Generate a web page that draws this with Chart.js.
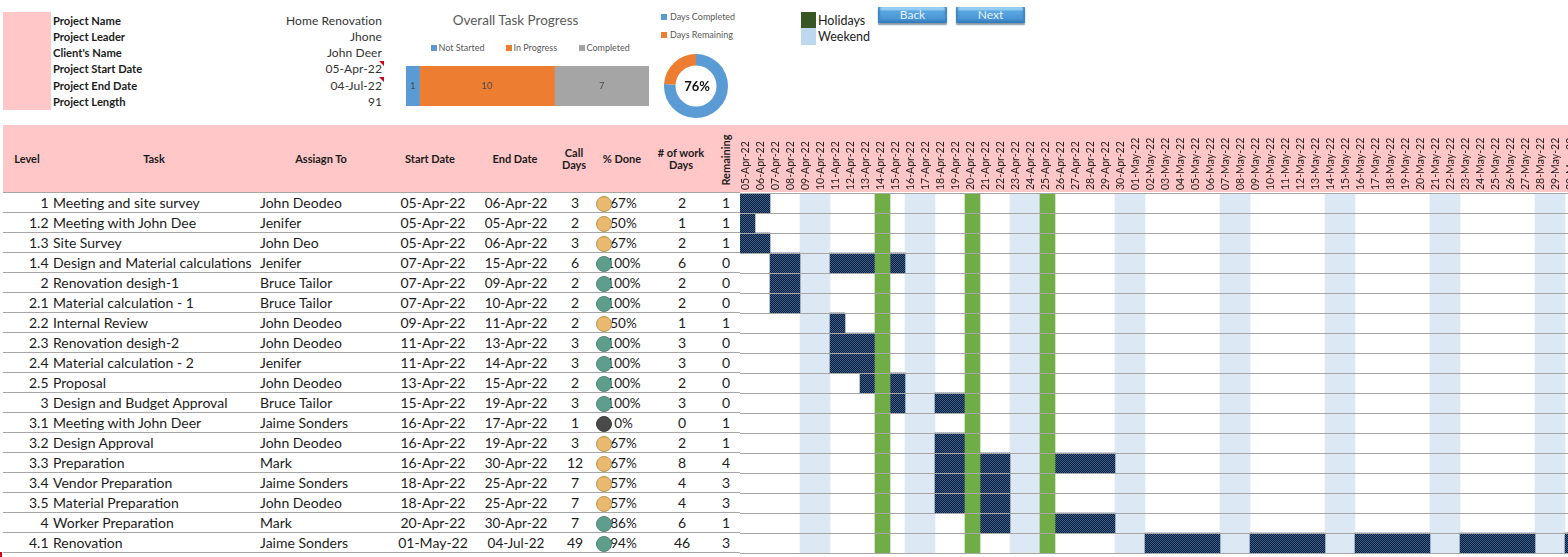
<!DOCTYPE html>
<html><head><meta charset="utf-8">
<script src="https://cdn.jsdelivr.net/npm/chart.js@4/dist/chart.umd.min.js"></script>
<style>
html,body{margin:0;padding:0;background:#fff;width:1568px;height:557px;overflow:hidden;font-family:Lato,sans-serif;color:#1c1c1c}
.t{position:absolute;white-space:nowrap;line-height:1.1}
.b{position:absolute}
canvas{position:absolute}
.btn{position:absolute;height:16px;width:69px;border-radius:1px;text-align:center;font:12px/15px Lato,sans-serif;color:#e4f1fb;
background:linear-gradient(#a5d6f4 0%,#8cc8ef 18%,#5ba6e0 26%,#4a96d6 72%,#2f78b8 100%);box-shadow:0 1.5px 1.5px #8a97a3,inset 3px 0 2px -1px #3e86c4,inset -3px 0 2px -1px #3e86c4}
</style></head><body>
<script>
// ---- data ----
const projectLabels = ["Project Name","Project Leader","Client's Name","Project Start Date","Project End Date","Project Length"];
const projectValues = ["Home Renovation","Jhone","John Deer","05-Apr-22","04-Jul-22","91"];
const statusNames = ["Not Started","In Progress","Completed"];
const statusCounts = [1,10,7];
const daysNames = ["Days Completed","Days Remaining"];
const daysShares = [76,24];
const headers = ["Level","Task","Assiagn To","Start Date","End Date","Call\nDays","% Done","# of work\nDays"];
const levels = ["1","1.2","1.3","1.4","2","2.1","2.2","2.3","2.4","2.5","3","3.1","3.2","3.3","3.4","3.5","4","4.1"];
const tasks = ["Meeting and site survey","Meeting with John Dee","Site Survey","Design and Material calculations","Renovation desigh-1","Material calculation - 1","Internal Review","Renovation desigh-2","Material calculation - 2","Proposal","Design and Budget Approval","Meeting with John Deer","Design Approval","Preparation","Vendor Preparation","Material Preparation","Worker Preparation","Renovation"];
const assignees = ["John Deodeo","Jenifer","John Deo","Jenifer","Bruce Tailor","Bruce Tailor","John Deodeo","John Deodeo","Jenifer","John Deodeo","Bruce Tailor","Jaime Sonders","John Deodeo","Mark","Jaime Sonders","John Deodeo","Mark","Jaime Sonders"];
const startDates = ["05-Apr-22","05-Apr-22","05-Apr-22","07-Apr-22","07-Apr-22","07-Apr-22","09-Apr-22","11-Apr-22","11-Apr-22","13-Apr-22","15-Apr-22","16-Apr-22","16-Apr-22","16-Apr-22","18-Apr-22","18-Apr-22","20-Apr-22","01-May-22"];
const endDates = ["06-Apr-22","05-Apr-22","06-Apr-22","15-Apr-22","09-Apr-22","10-Apr-22","11-Apr-22","13-Apr-22","14-Apr-22","15-Apr-22","19-Apr-22","17-Apr-22","19-Apr-22","30-Apr-22","25-Apr-22","25-Apr-22","30-Apr-22","04-Jul-22"];
const callDays = [3,2,3,6,2,2,2,3,3,2,3,1,3,12,7,7,7,49];
const pctDone = [67,50,67,100,100,100,50,100,100,100,100,0,67,67,57,57,86,94];
const workDays = [2,1,2,6,2,2,1,3,3,2,3,0,2,8,4,4,6,46];
const remaining = [1,1,1,0,0,0,1,0,0,0,0,1,1,4,3,3,1,3];
const dayLabels = ["05-Apr-22","06-Apr-22","07-Apr-22","08-Apr-22","09-Apr-22","10-Apr-22","11-Apr-22","12-Apr-22","13-Apr-22","14-Apr-22","15-Apr-22","16-Apr-22","17-Apr-22","18-Apr-22","19-Apr-22","20-Apr-22","21-Apr-22","22-Apr-22","23-Apr-22","24-Apr-22","25-Apr-22","26-Apr-22","27-Apr-22","28-Apr-22","29-Apr-22","30-Apr-22","01-May-22","02-May-22","03-May-22","04-May-22","05-May-22","06-May-22","07-May-22","08-May-22","09-May-22","10-May-22","11-May-22","12-May-22","13-May-22","14-May-22","15-May-22","16-May-22","17-May-22","18-May-22","19-May-22","20-May-22","21-May-22","22-May-22","23-May-22","24-May-22","25-May-22","26-May-22","27-May-22","28-May-22","29-May-22","30-May-22"];
const weekendSpans = [["09-Apr-22","10-Apr-22"],["16-Apr-22","17-Apr-22"],["23-Apr-22","24-Apr-22"],["30-Apr-22","01-May-22"],["07-May-22","08-May-22"],["14-May-22","15-May-22"],["21-May-22","22-May-22"],["28-May-22","29-May-22"]];
const holidaySpans = [["14-Apr-22","14-Apr-22"],["20-Apr-22","20-Apr-22"],["25-Apr-22","25-Apr-22"]];
const workedSpans = [
 [["05-Apr-22","06-Apr-22"]],
 [["05-Apr-22","05-Apr-22"]],
 [["05-Apr-22","06-Apr-22"]],
 [["07-Apr-22","08-Apr-22"],["11-Apr-22","13-Apr-22"],["15-Apr-22","15-Apr-22"]],
 [["07-Apr-22","08-Apr-22"]],
 [["07-Apr-22","08-Apr-22"]],
 [["11-Apr-22","11-Apr-22"]],
 [["11-Apr-22","13-Apr-22"]],
 [["11-Apr-22","13-Apr-22"]],
 [["13-Apr-22","13-Apr-22"],["15-Apr-22","15-Apr-22"]],
 [["15-Apr-22","15-Apr-22"],["18-Apr-22","19-Apr-22"]],
 [],
 [["18-Apr-22","19-Apr-22"]],
 [["18-Apr-22","19-Apr-22"],["21-Apr-22","22-Apr-22"],["26-Apr-22","29-Apr-22"]],
 [["18-Apr-22","19-Apr-22"],["21-Apr-22","22-Apr-22"]],
 [["18-Apr-22","19-Apr-22"],["21-Apr-22","22-Apr-22"]],
 [["21-Apr-22","22-Apr-22"],["26-Apr-22","29-Apr-22"]],
 [["02-May-22","06-May-22"],["09-May-22","13-May-22"],["16-May-22","20-May-22"],["23-May-22","27-May-22"],["30-May-22","30-May-22"]]
];

// ---- helpers ----
function box(x,y,w,h,c){const d=document.createElement('div');d.className='b';d.style.cssText=`left:${x}px;top:${y}px;width:${w}px;height:${h}px;background:${c}`;document.body.appendChild(d);return d;}
function txt(s,x,y,o={}){const d=document.createElement('div');d.className='t';d.textContent=s;
 const a=o.align||'left';const tx=a==='left'?'0':a==='right'?'-100%':'-50%';
 d.style.cssText=`left:${x}px;top:${y}px;transform:translate(${tx},-50%)${o.rot?' rotate(-90deg)':''};font-size:${o.size||14}px;font-weight:${o.bold?700:400};color:${o.color||'#1c1c1c'};text-align:${a==='left'?'left':'center'};${o.css||''}`;
 if(s.includes('\n'))d.style.whiteSpace='pre-line';
 document.body.appendChild(d);return d;}
function cv(x,y,w,h){const c=document.createElement('canvas');c.width=w;c.height=h;c.style.cssText=`left:${x}px;top:${y}px;width:${w}px;height:${h}px`;document.body.appendChild(c);return c;}

const PINK='#ffc7c7', BLUE='#5b9bd5', ORANGE='#ed7d31', GRAY='#a5a5a5';

// ---- top block ----
box(3,12,48,98,PINK);
const infoY=[21,37,53,69,86,102];
projectLabels.forEach((s,i)=>{txt(s,53,infoY[i],{bold:true,size:11.2});txt(projectValues[i],382,infoY[i],{align:'right',size:12,color:'#333',css:'letter-spacing:.1px'});});
[61,77].forEach(y=>{const d=box(379,y,5,5,'#d0021b');d.style.clipPath='polygon(0 0,100% 0,100% 100%)';});
box(0,552,2,5,'#d0021b');

txt('Overall Task Progress',515.5,20,{align:'center',size:13.5,color:'#595959'});
const legX=[431,506,579];
statusNames.forEach((s,i)=>{box(legX[i],45,6,6,[BLUE,ORANGE,GRAY][i]);txt(s,legX[i]+7.5,48,{size:9,color:'#595959'});});
daysNames.forEach((s,i)=>{const y=[17,35][i];box(661,y-3,6,6,[BLUE,ORANGE][i]);txt(s,670,y,{size:9,color:'#595959'});});

box(801,12,15,16,'#375623');box(801,28,15,17,'#bdd7ee');
txt('Holidays',818,21,{size:12.5});txt('Weekend',818,37,{size:12.5});
[['Back',878],['Next',956]].forEach(([s,x])=>{const d=document.createElement('div');d.className='btn';d.textContent=s;d.style.left=x+'px';d.style.top='7px';document.body.appendChild(d);});

// ---- header band ----
box(3,125,1565,67,PINK);
const hdrX=[27,154,321,430,515,574,622,681];
headers.forEach((s,i)=>txt(s,hdrX[i],159,{align:'center',bold:true,size:11}));
txt('Remaining',726,160,{align:'center',bold:true,size:11,rot:true});

// ---- table rows ----
box(3,192,737,1,'#a6a6a6');
levels.forEach((l,i)=>{
 const top=193+i*20,y=top+10;
 box(3,top+19,737,1,'#a6a6a6');
 txt(l,48.5,y,{align:'right'});
 txt(tasks[i],53,y);
 txt(assignees[i],260,y);
 txt(startDates[i],433,y,{align:'center'});
 txt(endDates[i],516,y,{align:'center',size:13.5});
 txt(String(callDays[i]),575,y,{align:'center'});
 txt(pctDone[i]+'%',623.5,y,{align:'center',size:13.5});
 txt(String(workDays[i]),682,y,{align:'center'});
 txt(String(remaining[i]),726,y,{align:'center'});
});

Chart.defaults.font.family='Lato, sans-serif';
Chart.defaults.animation=false;
Chart.defaults.responsive=false;
Chart.defaults.devicePixelRatio=1;

// ---- status dots ----
function dotColor(p){return p===0?'#4a4a4a':p>=80?'#5f9e8c':'#e8b96f';}
function dotEdge(p){return p===0?'#3a3a3a':p>=80?'#4c8272':'#b8924f';}
new Chart(cv(593,194,22,360),{type:'line',data:{labels:tasks,datasets:[{data:pctDone.map(()=>0),showLine:false,clip:false,pointRadius:7.5,
 pointBackgroundColor:pctDone.map(dotColor),pointBorderColor:pctDone.map(dotEdge),pointBorderWidth:1}]},
 options:{indexAxis:'y',plugins:{legend:{display:false},tooltip:{enabled:false}},layout:{padding:0,autoPadding:false},
 scales:{x:{display:false,min:-1,max:1},y:{display:false,offset:true}}}});

// ---- overall task progress bar ----
const barValueLabels={id:'barValueLabels',afterDatasetsDraw(c){const g=c.ctx;g.save();g.font='9.5px Lato';g.fillStyle='#4a4a4a';g.textAlign='center';g.textBaseline='middle';
 c.data.datasets.forEach((d,i)=>{const el=c.getDatasetMeta(i).data[0];g.fillText(d.data[0],(el.base+el.x)/2,el.y);});g.restore();}};
new Chart(cv(406,66,243,40),{type:'bar',plugins:[barValueLabels],
 data:{labels:['Overall'],datasets:statusNames.map((n,i)=>({label:n,data:[statusCounts[i]],backgroundColor:[BLUE,ORANGE,GRAY][i],borderWidth:0}))},
 options:{indexAxis:'y',barPercentage:1,categoryPercentage:1,plugins:{legend:{display:false},tooltip:{enabled:false}},
 scales:{x:{display:false,stacked:true,min:0,max:statusCounts.reduce((a,b)=>a+b,0)},y:{display:false,stacked:true}}}});

// ---- doughnut ----
new Chart(cv(662,52,68,68),{type:'doughnut',data:{labels:daysNames,datasets:[{data:daysShares,backgroundColor:[BLUE,ORANGE],borderWidth:0}]},
 options:{cutout:'64%',layout:{padding:2},plugins:{legend:{display:false},tooltip:{enabled:false}}}});
txt(daysShares[0]+'%',697,86,{align:'center',bold:true,size:13,color:'#111'});

// ---- gantt ----
const pat=document.createElement('canvas');pat.width=2;pat.height=2;
{const g=pat.getContext('2d');g.fillStyle='#0e1b36';g.fillRect(0,0,2,2);g.fillStyle='#35618f';g.fillRect(0,0,1,1);g.fillRect(1,1,1,1);}
const ctxPat=pat.getContext('2d').createPattern(pat,'repeat');
const ix=s=>dayLabels.indexOf(s);
const span=([a,b])=>[ix(a),ix(b)+1];
const bandSet=(sp,col)=>({data:tasks.map(()=>span(sp)),backgroundColor:col,borderWidth:0,grouped:false,barPercentage:1,categoryPercentage:1,order:col==='#dce8f4'?3:1});
const datasets=[];
weekendSpans.forEach(s=>datasets.push(bandSet(s,'#dce8f4')));
holidaySpans.forEach(s=>datasets.push(bandSet(s,'#70ad47')));
const maxSeg=Math.max(...workedSpans.map(r=>r.length));
for(let k=0;k<maxSeg;k++){
 datasets.push({data:workedSpans.map(r=>r[k]?span(r[k]):null),backgroundColor:ctxPat,borderWidth:0,grouped:false,barPercentage:1,categoryPercentage:1,order:2});
}
new Chart(cv(740,124,840,433),{type:'bar',data:{labels:tasks,datasets},
 options:{indexAxis:'y',layout:{padding:{bottom:4,left:0,right:0,top:0},autoPadding:false},
 plugins:{legend:{display:false},tooltip:{enabled:false}},
 scales:{
  x:{type:'linear',position:'top',min:0,max:56,
     afterFit(s){s.height=69;s.paddingLeft=0;s.paddingRight=0;s.paddingTop=0;s.paddingBottom=0;},
     border:{display:false},grid:{display:false,drawTicks:false},
     ticks:{stepSize:1,autoSkip:false,minRotation:90,maxRotation:90,padding:3,labelOffset:18,color:'#222',font:{size:10.5},
       callback:v=>dayLabels[v]||''}},
  y:{type:'category',offset:true,
     afterFit(s){s.width=0;s.paddingTop=0;s.paddingBottom=0;},
     border:{display:false},
     grid:{color:'#a6a6a6',z:1,drawTicks:false,offset:true},
     ticks:{display:false}}
 }}});
</script>
</body></html>
